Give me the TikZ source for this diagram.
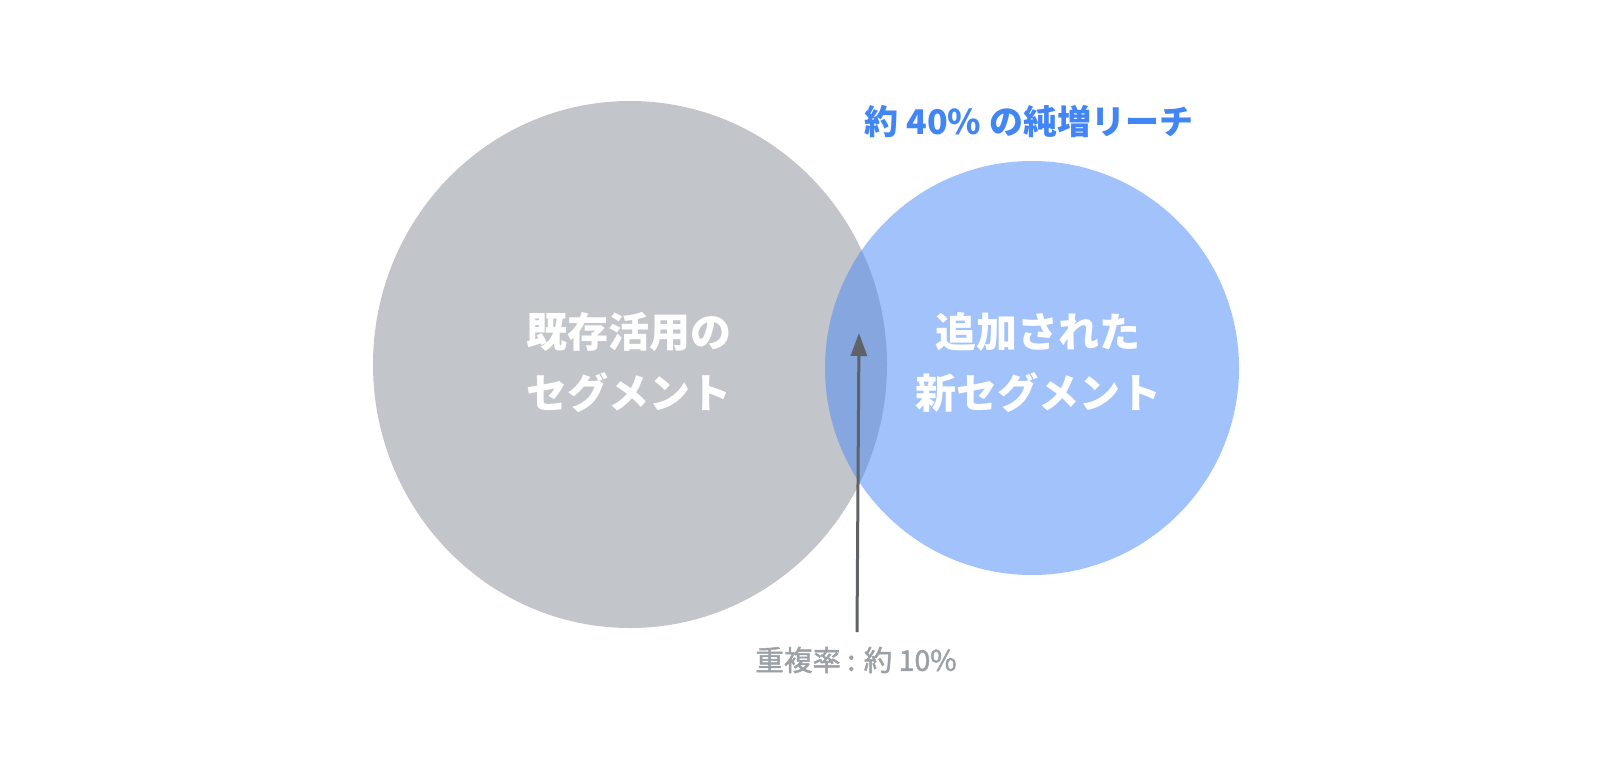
\documentclass[tikz,border=0pt]{standalone}
\usepackage{fontspec}
\usetikzlibrary{arrows.meta,shapes.geometric}
\newfontfamily\jpfont{Noto Sans CJK JP}
\newfontfamily\jpmedium[FakeBold=1.6]{Noto Sans CJK JP}
\definecolor{oldgray}{HTML}{C2C5C9}
\definecolor{newblue}{HTML}{A1C2FA}
\definecolor{bothblue}{HTML}{85A6DE}
\definecolor{reachblue}{HTML}{4285F4}
\definecolor{notegray}{HTML}{9AA0A6}
\definecolor{arrowgray}{HTML}{5F6368}
\begin{document}
\begin{tikzpicture}[x=1pt, y=-1pt, every node/.style={font=\jpfont},
                  seg/.style={inner sep=0pt},
                  inlabel/.style={text=white, align=center,
                  font=\jpfont\bfseries\fontsize{41}{61}\selectfont}]
              \useasboundingbox (0,0) rectangle (1600,768);
              \node[seg, shape=ellipse, fill=oldgray, minimum width=514pt, minimum height=527pt] (old) at (630,364.5) {};
              \node[seg, shape=circle, fill=newblue, minimum size=414pt] (new) at (1032,368) {};
              \begin{scope}
                \clip (old.center) ellipse [x radius=257pt, y radius=263.5pt];
                \fill[bothblue] (new.center) circle (207pt);
              \end{scope}
              \node[inlabel] (oldtext) at (629,362) {既存活用の\\セグメント};
              \node[inlabel] (newtext) at (1038,362) {追加された\\新セグメント};
              \node[text=reachblue, font=\jpfont\bfseries\fontsize{34}{40}\selectfont] (reach) at (1029,121) {約 40\% の純増リーチ};
              \node[text=notegray, font=\jpmedium\fontsize{28.5}{34}\selectfont] (overlap) at (856,660) {重複率 : 約 10\%};
              \coordinate (tail) at (857,632);
              \coordinate (tip) at (859,333);
              \draw[arrowgray, line width=3pt, -{Triangle[length=23pt, width=16pt]}] (tail) -- (tip);
          \end{tikzpicture}
\end{document}
